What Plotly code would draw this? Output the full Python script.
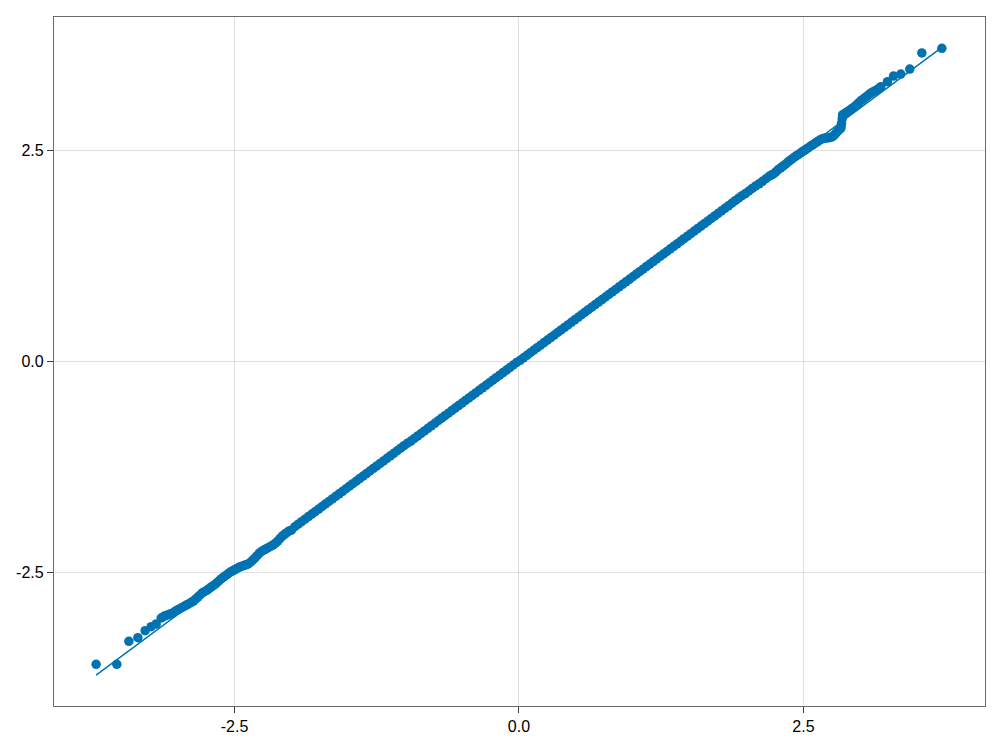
import plotly.graph_objects as go

# Theoretical normal quantiles (x) and sample quantiles (y)
lower_theo = [
    -3.716, -3.534, -3.428, -3.349, -3.285, -3.232, -3.188, -3.144,
    -3.12, -3.10, -3.08, -3.06, -3.04, -3.02, -3.00, -2.98, -2.96, -2.94,
    -2.92, -2.90, -2.88, -2.86, -2.84, -2.82, -2.80, -2.78, -2.76, -2.74,
    -2.72, -2.70, -2.68, -2.66, -2.64, -2.62, -2.60, -2.58, -2.56, -2.54,
    -2.52, -2.50, -2.48, -2.46, -2.44, -2.42, -2.40, -2.38, -2.36, -2.34,
    -2.32, -2.30, -2.28, -2.26, -2.24, -2.22, -2.20, -2.18, -2.16, -2.14,
    -2.12, -2.10, -2.08, -2.06, -2.04, -2.02, -2.00,
]
lower_sample = [
    -3.588, -3.588, -3.316, -3.273, -3.190, -3.143, -3.111, -3.040,
    -3.02, -3.01, -3.00, -2.99, -2.98, -2.96, -2.945, -2.93, -2.915, -2.90,
    -2.885, -2.87, -2.855, -2.84, -2.815, -2.79, -2.765, -2.74, -2.725, -2.71,
    -2.69, -2.67, -2.65, -2.63, -2.605, -2.58, -2.56, -2.54, -2.52, -2.50,
    -2.485, -2.47, -2.455, -2.44, -2.43, -2.42, -2.41, -2.40, -2.38, -2.355,
    -2.33, -2.30, -2.27, -2.25, -2.235, -2.22, -2.205, -2.19, -2.175, -2.155,
    -2.13, -2.10, -2.07, -2.05, -2.03, -2.01, -2.00,
]

middle_theo = [
    -1.97, -1.94, -1.91, -1.88, -1.85, -1.82, -1.79, -1.76, -1.73, -1.70,
    -1.67, -1.64, -1.61, -1.58, -1.55, -1.52, -1.49, -1.46, -1.43, -1.40,
    -1.37, -1.34, -1.31, -1.28, -1.25, -1.22, -1.19, -1.16, -1.13, -1.10,
    -1.07, -1.04, -1.01, -0.98, -0.95, -0.92, -0.89, -0.86, -0.83, -0.80,
    -0.77, -0.74, -0.71, -0.68, -0.65, -0.62, -0.59, -0.56, -0.53, -0.50,
    -0.47, -0.44, -0.41, -0.38, -0.35, -0.32, -0.29, -0.26, -0.23, -0.20,
    -0.17, -0.14, -0.11, -0.08, -0.05, -0.02, 0.01, 0.04, 0.07, 0.10,
    0.13, 0.16, 0.19, 0.22, 0.25, 0.28, 0.31, 0.34, 0.37, 0.40,
    0.43, 0.46, 0.49, 0.52, 0.55, 0.58, 0.61, 0.64, 0.67, 0.70,
    0.73, 0.76, 0.79, 0.82, 0.85, 0.88, 0.91, 0.94, 0.97, 1.00,
    1.03, 1.06, 1.09, 1.12, 1.15, 1.18, 1.21, 1.24, 1.27, 1.30,
    1.33, 1.36, 1.39, 1.42, 1.45, 1.48, 1.51, 1.54, 1.57, 1.60,
    1.63, 1.66, 1.69, 1.72, 1.75, 1.78, 1.81, 1.84, 1.87, 1.90,
    1.93, 1.96, 1.99, 2.02, 2.05, 2.08, 2.11, 2.14, 2.17, 2.20,
]
middle_sample = [
    -1.96, -1.93, -1.90, -1.87, -1.84, -1.81, -1.78, -1.75, -1.72, -1.69,
    -1.66, -1.63, -1.60, -1.57, -1.54, -1.51, -1.48, -1.45, -1.42, -1.39,
    -1.36, -1.33, -1.30, -1.27, -1.24, -1.21, -1.18, -1.15, -1.12, -1.09,
    -1.06, -1.03, -1.00, -0.97, -0.945, -0.915, -0.885, -0.855, -0.825, -0.795,
    -0.765, -0.735, -0.705, -0.675, -0.645, -0.615, -0.585, -0.555, -0.525, -0.495,
    -0.465, -0.435, -0.405, -0.375, -0.345, -0.315, -0.285, -0.255, -0.225, -0.195,
    -0.165, -0.135, -0.105, -0.075, -0.045, -0.015, 0.01, 0.04, 0.07, 0.10,
    0.13, 0.16, 0.19, 0.22, 0.25, 0.28, 0.31, 0.34, 0.37, 0.40,
    0.43, 0.46, 0.49, 0.52, 0.55, 0.58, 0.61, 0.64, 0.67, 0.70,
    0.73, 0.76, 0.79, 0.82, 0.85, 0.88, 0.91, 0.94, 0.97, 1.00,
    1.03, 1.06, 1.09, 1.12, 1.15, 1.18, 1.21, 1.24, 1.27, 1.30,
    1.33, 1.36, 1.39, 1.42, 1.45, 1.48, 1.51, 1.54, 1.57, 1.60,
    1.63, 1.66, 1.69, 1.72, 1.75, 1.78, 1.81, 1.84, 1.87, 1.90,
    1.93, 1.96, 1.985, 2.015, 2.045, 2.075, 2.10, 2.13, 2.16, 2.19,
]

upper_theo = [
    2.22, 2.24, 2.26, 2.28, 2.30, 2.32, 2.34, 2.36, 2.38, 2.40,
    2.42, 2.44, 2.46, 2.48, 2.50, 2.52, 2.54, 2.56, 2.58, 2.60,
    2.62, 2.64, 2.66, 2.68, 2.70, 2.72, 2.74, 2.755, 2.77, 2.784,
    2.80, 2.815, 2.828, 2.832, 2.834, 2.84, 2.843, 2.86, 2.88, 2.90,
    2.916, 2.935, 2.955, 2.974, 2.99, 3.01, 3.033, 3.055, 3.077, 3.10,
    3.125, 3.150, 3.18, 3.238, 3.291, 3.355, 3.434, 3.540, 3.716,
]
upper_sample = [
    2.205, 2.22, 2.245, 2.27, 2.29, 2.31, 2.33, 2.355, 2.375, 2.395,
    2.415, 2.435, 2.45, 2.47, 2.49, 2.505, 2.525, 2.545, 2.56, 2.58,
    2.597, 2.615, 2.63, 2.639, 2.642, 2.645, 2.652, 2.658, 2.675, 2.698,
    2.72, 2.74, 2.757, 2.79, 2.816, 2.87, 2.915, 2.93, 2.95, 2.965,
    2.982, 3.00, 3.02, 3.045, 3.065, 3.09, 3.112, 3.135, 3.160, 3.18,
    3.20, 3.219, 3.25, 3.309, 3.376, 3.400, 3.459, 3.649, 3.704,
]

theoretical = lower_theo + middle_theo + upper_theo
sample = lower_sample + middle_sample + upper_sample

tick_vals = [-2.5, 0.0, 2.5]
tick_text = ["-2.5", "0.0", "2.5"]

blue = "#0072B2"
frame = "#6a6a6a"
tickc = "#3a3a3a"
grid = "rgba(0,0,0,0.12)"

fig = go.Figure()
fig.add_trace(go.Scatter(
    x=theoretical, y=sample, mode="markers",
    marker=dict(color=blue, size=9.5, line=dict(width=0)),
    showlegend=False,
))
line_ends = [theoretical[0], theoretical[-1]]
fig.add_trace(go.Scatter(
    x=line_ends, y=line_ends, mode="lines",
    line=dict(color=blue, width=1.5),
    showlegend=False,
))

axis_common = dict(
    tickvals=tick_vals, ticktext=tick_text,
    showgrid=True, gridcolor=grid, gridwidth=1,
    zeroline=False,
    showline=True, linecolor=frame, linewidth=1.3, mirror=True,
    ticks="outside", ticklen=6, tickcolor=tickc, tickwidth=1,
    tickfont=dict(family="Liberation Sans, Arial, sans-serif", size=16, color="black"),
)

fig.update_xaxes(range=[-4.086, 4.095], **axis_common)
fig.update_yaxes(range=[-4.082, 4.075], **axis_common)

fig.update_layout(
    width=992, height=742,
    margin=dict(l=46, r=15, t=9, b=44),
    plot_bgcolor="white", paper_bgcolor="white",
)

fig.write_html("out.html")
